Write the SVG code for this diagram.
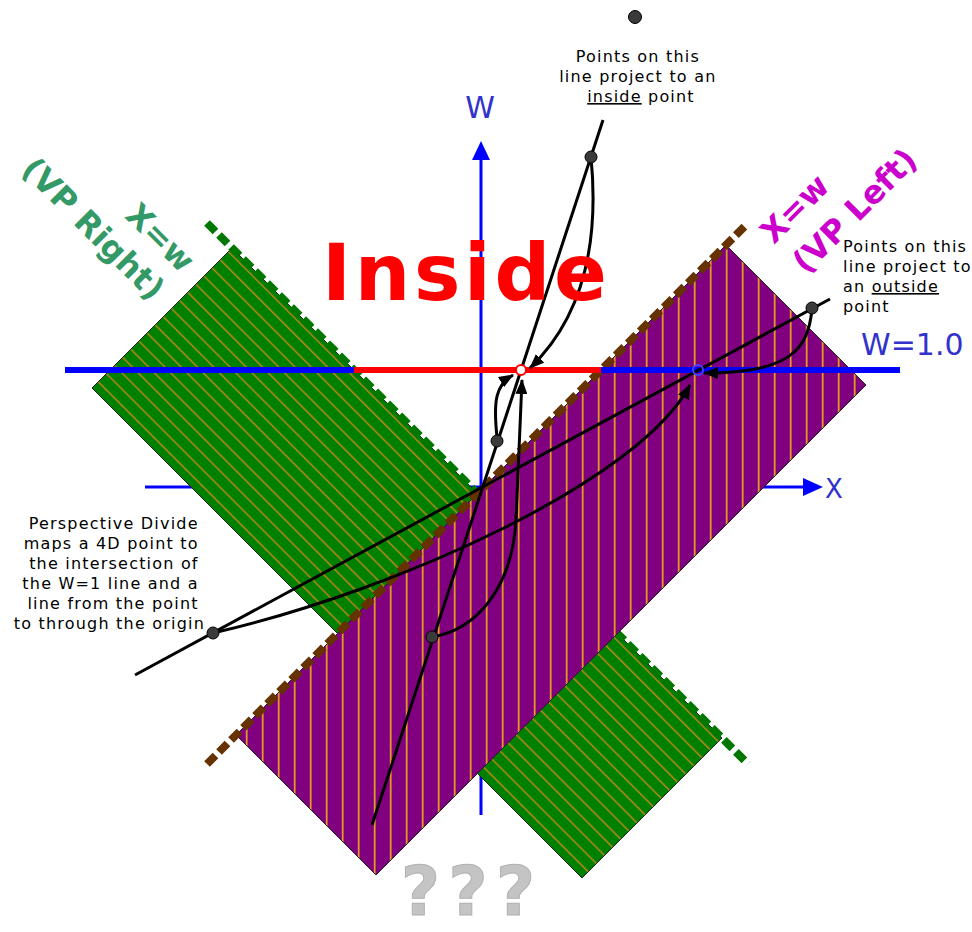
<svg xmlns="http://www.w3.org/2000/svg" width="972" height="932" viewBox="0 0 972 932">
<style>
.ann{font-family:"DejaVu Sans","Liberation Sans",sans-serif;font-size:16px;letter-spacing:1.2px;fill:#000}
.lbl{font-family:"DejaVu Sans","Liberation Sans",sans-serif;font-weight:bold;font-size:32px;text-anchor:middle}
.axl{font-family:"DejaVu Sans","Liberation Sans",sans-serif;fill:#3333cc}
.ln{fill:none;stroke:#000;stroke-width:3}
.arr{fill:none;stroke:#000;stroke-width:3;marker-end:url(#ah)}
.dot{fill:#3a3a3a;stroke:#000;stroke-width:1}
</style>
<defs>
<pattern id="gh" patternUnits="userSpaceOnUse" width="20" height="11.5" patternTransform="rotate(45)">
<rect width="20" height="11.5" fill="#008000"/>
<line x1="0" y1="5" x2="20" y2="5" stroke="#c8861a" stroke-width="1.4"/>
</pattern>
<pattern id="ph" patternUnits="userSpaceOnUse" x="0" y="0" width="16" height="20">
<rect width="16" height="20" fill="#800080"/>
<line x1="6.7" y1="0" x2="6.7" y2="20" stroke="#e09a20" stroke-width="1.8"/>
</pattern>
<marker id="ah" markerUnits="userSpaceOnUse" markerWidth="16" markerHeight="12" refX="14" refY="6" orient="auto">
<path d="M0,0 L15,6 L0,12 Z" fill="#000"/>
</marker>
</defs>
<rect width="972" height="932" fill="#fff"/>

<g id="axes">
<line x1="481" y1="815" x2="481" y2="156" stroke="#0000ff" stroke-width="3"/>
<polygon points="481,141 472,160 490,160" fill="#0000ff"/>
<line x1="145" y1="487" x2="806" y2="487" stroke="#0000ff" stroke-width="3"/>
<polygon points="823,487 803,478 803,496" fill="#0000ff"/>
</g>

<g id="band-vp-right">
<polygon points="232,248 722,738 582,878 92,388" fill="url(#gh)" stroke="#222" stroke-width="1"/>
<line x1="207" y1="223" x2="748" y2="764" stroke="#007800" stroke-width="8" stroke-dasharray="12 5"/>
</g>

<g id="band-vp-left">
<polygon points="236,735 726,245 866,385 376,875" fill="url(#ph)" stroke="#222" stroke-width="1"/>
<line x1="207" y1="764" x2="747" y2="224" stroke="#663300" stroke-width="8" stroke-dasharray="12 5"/>
</g>

<g id="w1-line">
<line x1="65" y1="370" x2="900" y2="370" stroke="#0000ff" stroke-width="6"/>
<line x1="354" y1="370" x2="601" y2="370" stroke="#ff0000" stroke-width="6"/>
</g>

<g id="connectors">
<line class="ln" x1="372" y1="825" x2="603" y2="120"/>
<line class="ln" x1="135" y1="675" x2="830" y2="299"/>
<path class="arr" d="M591,157 C600,250 580,320 530,368"/>
<path class="arr" d="M497,437 C493,400 496,385 513,375"/>
<path class="arr" d="M432,637 C475,630 512,590 516,520 L522,380"/>
<path class="arr" d="M812,309 C808,350 790,373 704,373"/>
<path class="arr" d="M213,633 C400,590 640,480 690,385"/>
</g>

<g id="points">
<circle cx="521" cy="370" r="5" fill="#fff" stroke="#ff0000" stroke-width="2"/>
<circle cx="698" cy="370" r="5" fill="none" stroke="#4040ff" stroke-width="2"/>
<circle class="dot" cx="635" cy="17" r="6.5"/>
<circle class="dot" cx="591" cy="157" r="6"/>
<circle class="dot" cx="497" cy="441" r="6"/>
<circle class="dot" cx="432" cy="637" r="6"/>
<circle class="dot" cx="812" cy="308" r="6"/>
<circle class="dot" cx="213" cy="633" r="6"/>
</g>

<g id="label-w"><text class="axl" x="480" y="118" font-size="30" text-anchor="middle">W</text></g>
<g id="label-x"><text class="axl" x="825" y="498" font-size="26">X</text></g>
<g id="label-w1"><text class="axl" x="861" y="355" font-size="30">W=1.0</text></g>

<g id="label-inside"><text x="322" y="300" font-family="DejaVu Sans, Liberation Sans, sans-serif" font-weight="bold" font-size="78" fill="#ff0000" textLength="285" lengthAdjust="spacing">Inside</text></g>

<g id="label-vp-right" fill="#339966">
<text class="lbl" transform="translate(161,237) rotate(45)" y="12">X=w</text>
<text class="lbl" transform="translate(94,228) rotate(45)" y="12">(VP Right)</text>
</g>
<g id="label-vp-left" fill="#cc00cc">
<text class="lbl" transform="translate(794,208) rotate(-45)" y="12">X=w</text>
<text class="lbl" transform="translate(854,210) rotate(-45)" y="12">(VP Left)</text>
</g>

<g id="note-inside">
<text class="ann" text-anchor="middle">
<tspan x="641" y="62">Points on this</tspan>
<tspan x="641" y="82">line project to an</tspan>
<tspan x="641" y="102"><tspan style="text-decoration:underline">inside</tspan> point</tspan>
</text>
</g>

<g id="note-outside">
<text class="ann">
<tspan x="843" y="252">Points on this</tspan>
<tspan x="843" y="272">line project to</tspan>
<tspan x="843" y="292">an <tspan style="text-decoration:underline">outside</tspan></tspan>
<tspan x="843" y="312">point</tspan>
</text>
</g>

<g id="note-divide">
<text class="ann" text-anchor="end">
<tspan x="205" y="529">Perspective Divide</tspan>
<tspan x="205" y="549">maps a 4D point to</tspan>
<tspan x="205" y="569">the intersection of</tspan>
<tspan x="205" y="589">the W=1 line and a</tspan>
<tspan x="205" y="609">line from the point</tspan>
<tspan x="205" y="629">to through the origin</tspan>
</text>
</g>

<g id="label-unknown"><text x="472" y="915" text-anchor="middle" font-family="DejaVu Sans, Liberation Sans, sans-serif" font-weight="bold" font-size="68" letter-spacing="8" fill="#c4c4c4" stroke="#b0b0b0" stroke-width="1">???</text></g>
</svg>
